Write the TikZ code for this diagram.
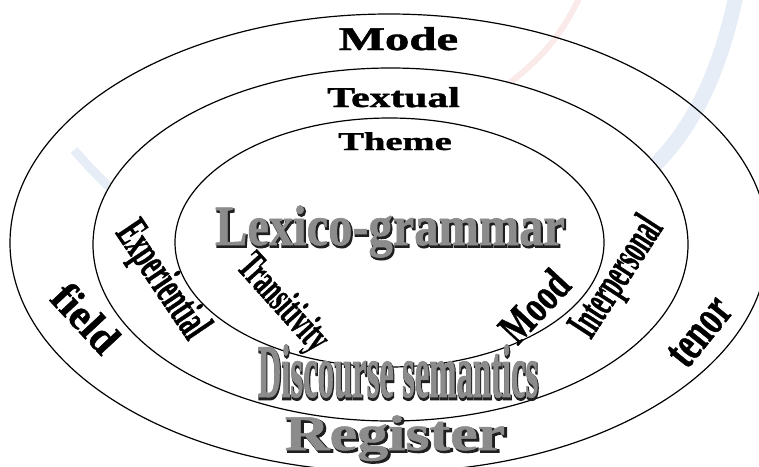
\documentclass[tikz,border=0pt]{standalone}
\usepackage{fontspec}
\usepackage{graphicx}
\newfontfamily\heavy[FakeBold=1.2]{Liberation Serif Bold}
\newfontfamily\heavyface[FakeBold=1.0]{Liberation Serif Bold}
\newfontfamily\heavyshadow[FakeBold=4]{Liberation Serif Bold}
\definecolor{wmblue}{HTML}{E6EDF7}
\definecolor{wmred}{HTML}{FBEAEA}
\newcommand\solidtext[1]{\leavevmode\rlap{\hspace{1.6pt}\raisebox{-1.8pt}{\heavyshadow\color{black!88}#1}}{\heavyface\color{black!45}#1}}
\tikzset{
  ring/.style={draw=black, line width=1.2pt},
  toplabel/.style={font=\heavy, inner sep=0pt, anchor=base},
  sidelabel/.style={font=\heavy, inner sep=0pt, anchor=center},
  bigthreed/.style={inner sep=0pt, anchor=base},
}
\begin{document}
\begin{tikzpicture}[x=1pt, y=-1pt]
\useasboundingbox (0,0) rectangle (759,466);
\clip (0,0) rectangle (759,466);
% faint watermark strokes
\draw[wmblue, line width=15pt] (736,-4) .. controls (722,60) and (700,120) .. (655,165);
\draw[wmblue, line width=9pt] (74,150) .. controls (86,164) and (98,176) .. (112,190);
\draw[wmred, line width=6pt] (580,-4) .. controls (562,35) and (540,60) .. (508,84);
% rings
\draw[ring] (389,243) ellipse [x radius=379, y radius=229];
\draw[ring, fill=white] (390.5,244.5) ellipse [x radius=297.5, y radius=176.5];
\draw[ring] (389.5,242.5) ellipse [x radius=214.5, y radius=124.5];
% top labels
\node[toplabel] (mode) at (398.5,50) {\fontsize{33}{35}\selectfont\scalebox{1.48}[1]{Mode}};
\node[toplabel] (textual) at (393.5,107) {\fontsize{28.7}{30}\selectfont\scalebox{1.45}[1]{Textual}};
\node[toplabel] (theme) at (395,150) {\fontsize{25.7}{27}\selectfont\scalebox{1.5}[1]{Theme}};
% side labels
\node[sidelabel, rotate=-47] (field) at (86,318) {\fontsize{43}{45}\selectfont\scalebox{0.96}[1]{field}};
\node[sidelabel, rotate=-56] (exper) at (161,281) {\fontsize{47}{49}\selectfont\scalebox{0.53}[1]{Experiential}};
\node[sidelabel, rotate=-48] (trans) at (282,304) {\fontsize{43}{45}\selectfont\scalebox{0.54}[1]{Transitivity}};
\node[sidelabel, rotate=47] (mood) at (534,306) {\fontsize{45}{47}\selectfont\scalebox{0.72}[1]{Mood}};
\node[sidelabel, rotate=57] (inter) at (618,278) {\fontsize{46}{48}\selectfont\scalebox{0.5}[1]{Interpersonal}};
\node[sidelabel, rotate=51] (tenor) at (700,332) {\fontsize{50}{52}\selectfont\scalebox{0.66}[1]{tenor}};
% 3D labels
\node[bigthreed] (lexgram) at (390,245) {\fontsize{57}{60}\selectfont\scalebox{0.85}[1]{\solidtext{Lexico-grammar}}};
\node[bigthreed] (discsem) at (398,397) {\fontsize{76}{78}\selectfont\scalebox{0.43}[1]{\solidtext{Discourse semantics}}};
\node[bigthreed] (register) at (395,450) {\fontsize{50}{52}\selectfont\scalebox{1.24}[1]{\solidtext{Register}}};
\end{tikzpicture}
\end{document}
